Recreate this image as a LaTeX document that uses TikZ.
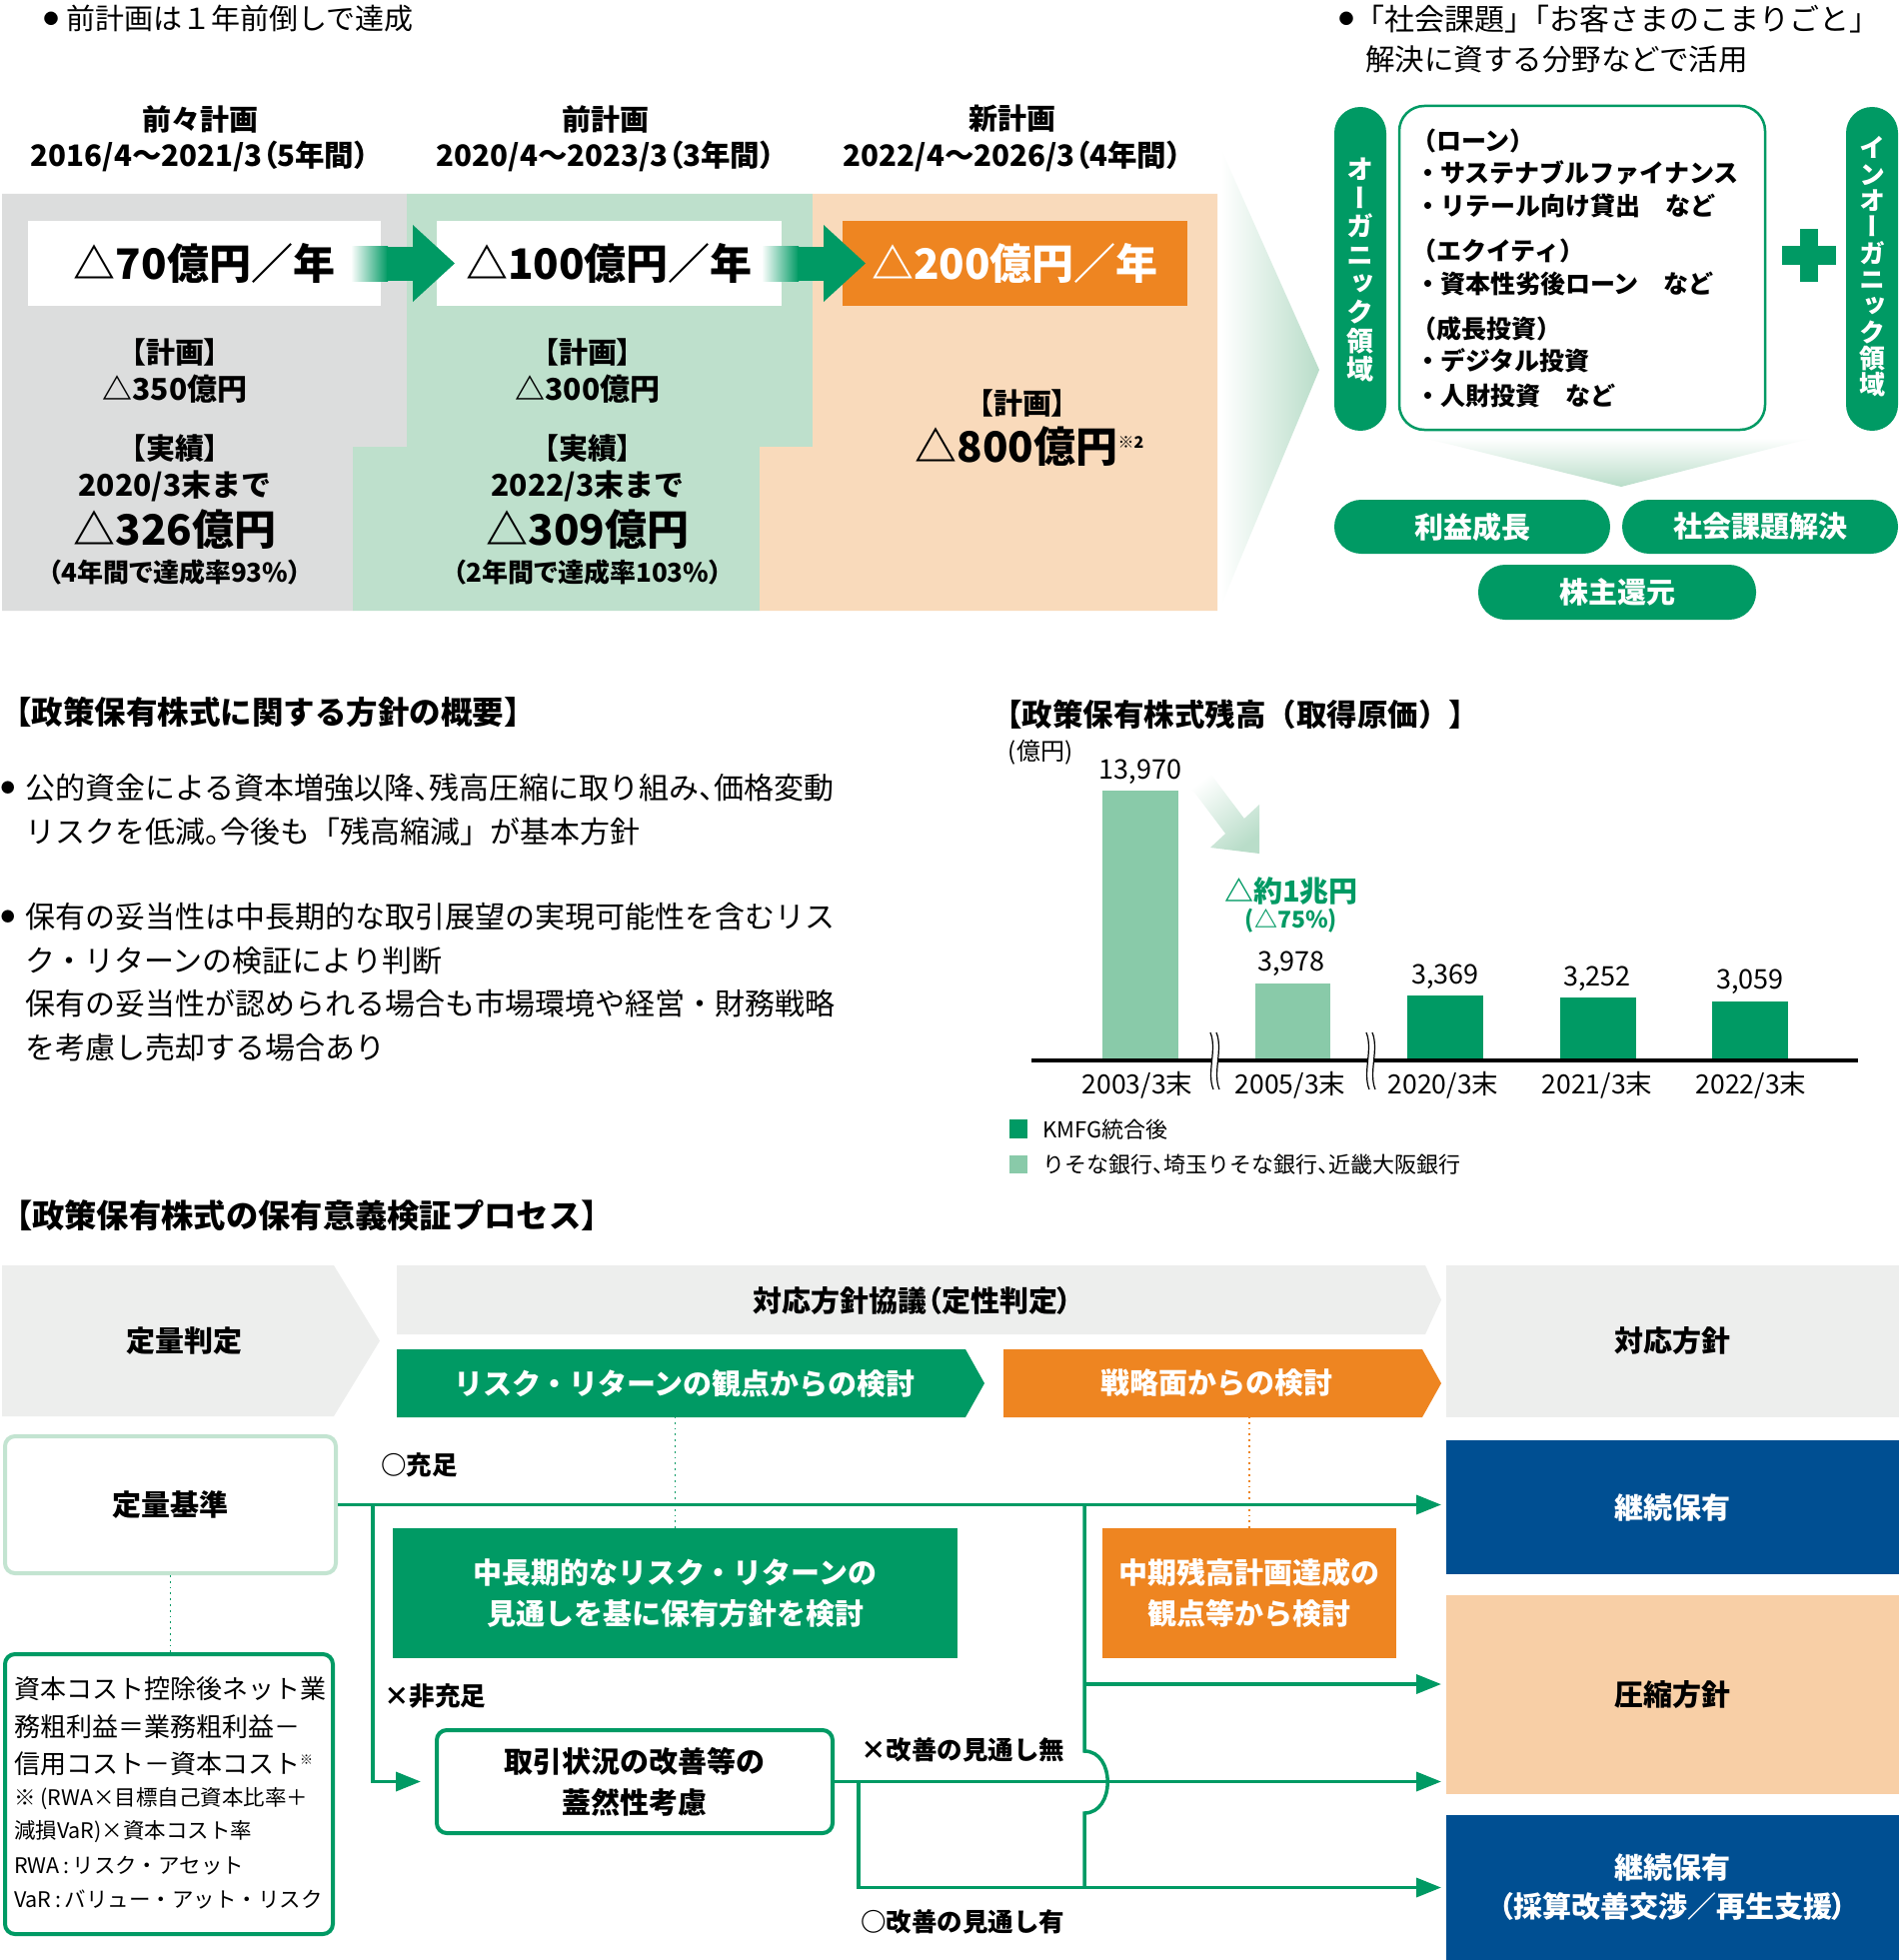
\documentclass[tikz,border=0pt]{standalone}
\usepackage{fontspec}
\setmainfont{Noto Sans CJK JP}
\newfontfamily\vfont[RawFeature=+vert]{Noto Sans CJK JP}
\newfontfamily\pfont[RawFeature=+palt]{Noto Sans CJK JP}
\usetikzlibrary{arrows.meta}
\definecolor{grayP}{HTML}{DCDDDD}
\definecolor{greenP}{HTML}{BEE0CC}
\definecolor{peachP}{HTML}{F9DABB}
\definecolor{orangeC}{HTML}{EE8521}
\definecolor{greenC}{HTML}{009A64}
\definecolor{barL}{HTML}{89CAA9}
\definecolor{blueC}{HTML}{004F92}
\definecolor{peachC}{HTML}{F8CFA6}
\definecolor{hdrG}{HTML}{EDEEED}
\definecolor{kijunB}{HTML}{C3E4D1}
\definecolor{fadeG}{HTML}{B9DDC9}
\newcommand{\fs}[2]{\fontsize{#1pt}{#2pt}\selectfont}
\newcommand{\hc}[1]{\makebox[0.5em][l]{#1}}
\begin{document}
\begin{tikzpicture}[x=1pt,y=-1pt,
  tx/.style={inner sep=0pt, outer sep=0pt, align=center},
  txw/.style={tx, anchor=west, align=left},
  flowline/.style={draw=greenC, line width=3.5pt},
  arr/.style={flowline, -{Triangle[length=25pt,width=19pt]}},
  dotg/.style={line width=1.8pt, dash pattern=on 1.8pt off 4pt},
  pill/.style={fill=greenC, rounded corners=26pt, inner sep=0pt, text=white, font=\bfseries\fs{29}{29}},
  fbox/.style={inner sep=0pt, outer sep=0pt, align=center},
]
\useasboundingbox (0,0) rectangle (1900,1961);
\fill[white] (0,0) rectangle (1900,1961);

% ---------------- top left ----------------
\node[tx, font=\fs{15}{15}] (bulA) at (51,19) {●};
\node[txw, font=\fs{29}{29}] (noteA) at (66,19) {前計画は１年前倒しで達成};

\node[tx, font=\bfseries\fs{29}{29}] (h1a) at (200,119) {前々計画};
\node[tx, font=\pfont\bfseries\fs{29.5}{29.5}] (h1b) at (200,156) {2016/4～2021/3（5年間）};
\node[tx, font=\bfseries\fs{29}{29}] (h2a) at (606,119) {前計画};
\node[tx, font=\pfont\bfseries\fs{29.5}{29.5}] (h2b) at (606,156) {2020/4～2023/3（3年間）};
\node[tx, font=\bfseries\fs{29}{29}] (h3a) at (1013,119) {新計画};
\node[tx, font=\pfont\bfseries\fs{29.5}{29.5}] (h3b) at (1013,156) {2022/4～2026/3（4年間）};

\fill[grayP] (2,194) -- (407,194) -- (407,447) -- (353,447) -- (353,611) -- (2,611) -- cycle;
\fill[greenP] (407,194) -- (813,194) -- (813,447) -- (760,447) -- (760,611) -- (353,611) -- (353,447) -- (407,447) -- cycle;
\fill[peachP] (813,194) -- (1218,194) -- (1218,611) -- (760,611) -- (760,447) -- (813,447) -- cycle;

\node[fill=white, minimum width=353pt, minimum height=85pt, inner sep=0pt, font=\bfseries\fs{42}{42}] (b1) at (204.5,263.5) {△70億円／年};
\node[fill=white, minimum width=345pt, minimum height=85pt, inner sep=0pt, font=\bfseries\fs{42}{42}] (b2) at (609.5,263.5) {△100億円／年};
\node[fill=orangeC, text=white, minimum width=345pt, minimum height=85pt, inner sep=0pt, font=\bfseries\fs{42}{42}] (b3) at (1015.5,263.5) {△200億円／年};

\shade[left color=white, right color=greenC] (351,247) rectangle (388,281);
\fill[greenC] (387,247) rectangle (414,281);
\fill[greenC] (413,225) -- (455,263.5) -- (413,302) -- cycle;
\shade[left color=white, right color=greenC] (762,247) rectangle (799,281);
\fill[greenC] (798,247) rectangle (825,281);
\fill[greenC] (824,225) -- (866,263.5) -- (824,302) -- cycle;

\node[tx, font=\pfont\bfseries\fs{29}{29}] (g1) at (175,352) {【計画】};
\node[tx, font=\bfseries\fs{30}{30}] (g2) at (175,389) {△350億円};
\node[tx, font=\pfont\bfseries\fs{29}{29}] (g3) at (175,449) {【実績】};
\node[tx, font=\bfseries\fs{30}{30}] (g4) at (175,486) {2020/3末まで};
\node[tx, font=\bfseries\fs{42}{42}] (g5) at (175,530) {△326億円};
\node[tx, font=\pfont\bfseries\fs{26}{26}] (g6) at (175,573) {（4年間で達成率93\%）};

\node[tx, font=\pfont\bfseries\fs{29}{29}] (m1) at (588,352) {【計画】};
\node[tx, font=\bfseries\fs{30}{30}] (m2) at (588,389) {△300億円};
\node[tx, font=\pfont\bfseries\fs{29}{29}] (m3) at (588,449) {【実績】};
\node[tx, font=\bfseries\fs{30}{30}] (m4) at (588,486) {2022/3末まで};
\node[tx, font=\bfseries\fs{42}{42}] (m5) at (588,530) {△309億円};
\node[tx, font=\pfont\bfseries\fs{26}{26}] (m6) at (588,573) {（2年間で達成率103\%）};

\node[tx, font=\pfont\bfseries\fs{29}{29}] (o1) at (1023,403) {【計画】};
\node[tx, font=\bfseries\fs{42}{42}] (o2) at (1030,447) {△800億円\raisebox{14pt}{\fs{16}{16}※2}};

\shade[left color=white, right color=fadeG] (1222,150) -- (1320,370) -- (1222,605) -- cycle;

% ---------------- top right ----------------
\node[tx, font=\fs{15}{15}] (bulB) at (1347,19) {●};
\node[txw, font=\fs{30}{30}] (noteB1) at (1355,19) {「社会課題」\hspace{-0.5em}「お客さまのこまりごと」};
\node[txw, font=\fs{29.5}{29.5}] (noteB2) at (1366,59) {解決に資する分野などで活用};

\node[pill, minimum width=52pt, minimum height=324pt] (orgP) at (1361,269) {};
\node[tx, text=white, font=\vfont\bfseries\fs{27}{28.6}] (orgT) at (1361,270) {オ\\ー\\ガ\\ニ\\ッ\\ク\\領\\域};
\node[pill, minimum width=52pt, minimum height=324pt] (inoP) at (1873,269) {};
\node[tx, text=white, font=\vfont\bfseries\fs{26}{26.3}] (inoT) at (1873,267) {イ\\ン\\オ\\ー\\ガ\\ニ\\ッ\\ク\\領\\域};

\node[draw=greenC, line width=2.5pt, rounded corners=25pt, minimum width=366pt, minimum height=324pt, inner sep=0pt] (listBox) at (1583,268) {};
\begin{scope}[every node/.style={txw, font=\bfseries\fs{25}{25}}]
\node (l1) at (1412,141) {（ローン）};
\node (l2) at (1416,173) {・サステナブルファイナンス};
\node (l3) at (1416,206) {・リテール向け貸出　など};
\node (l4) at (1412,251) {（エクイティ）};
\node (l5) at (1416,284) {・資本性劣後ローン　など};
\node (l6) at (1412,329) {（成長投資）};
\node (l7) at (1416,361) {・デジタル投資};
\node (l8) at (1416,396) {・人財投資　など};
\end{scope}

\fill[greenC] (1783,246) rectangle (1837,265);
\fill[greenC] (1801,229) rectangle (1819,282);

\shade[top color=white, bottom color=fadeG] (1424,438) -- (1814,438) -- (1622,487) -- cycle;

\node[pill, rounded corners=27pt, minimum width=276pt, minimum height=54pt] (p1) at (1473,527) {利益成長};
\node[pill, rounded corners=27pt, minimum width=276pt, minimum height=54pt] (p2) at (1761,527) {社会課題解決};
\node[pill, rounded corners=27pt, minimum width=278pt, minimum height=55pt] (p3) at (1618,592.5) {株主還元};

% ---------------- middle left ----------------
\node[txw, font=\bfseries\fs{31.5}{31.5}] (headL) at (0,713) {【政策保有株式に関する方針の概要】};
\node[tx, font=\fs{14}{14}] (bu1) at (8,788) {●};
\node[tx, font=\fs{14}{14}] (bu2) at (8,917) {●};
\begin{scope}[every node/.style={txw, font=\fs{30}{30}}]
\node (pl1) at (25,788) {公的資金による資本増強以降\hc{、}残高圧縮に取り組み\hc{、}価格変動};
\node (pl2) at (25,832) {リスクを低減\hc{。}今後も「残高縮減」が基本方針};
\node (pl3) at (25,917) {保有の妥当性は中長期的な取引展望の実現可能性を含むリス};
\node (pl4) at (25,961) {ク・リターンの検証により判断};
\node (pl5) at (25,1004) {保有の妥当性が認められる場合も市場環境や経営・財務戦略};
\node (pl6) at (25,1048) {を考慮し売却する場合あり};
\end{scope}

% ---------------- chart ----------------
\node[txw, font=\bfseries\fs{30.5}{30.5}] (headC) at (992,715) {【政策保有株式残高（取得原価）】};
\node[tx, font=\fs{24}{24}] (unit) at (1041,753) {(億円)};

\fill[barL] (1103,791) rectangle (1179,1061);
\fill[barL] (1256,984) rectangle (1331,1061);
\fill[greenC] (1408,996) rectangle (1484,1061);
\fill[greenC] (1561,998) rectangle (1637,1061);
\fill[greenC] (1713,1002) rectangle (1789,1061);
\draw[line width=3.5pt] (1032,1061) -- (1859,1061);

\foreach \bx in {1216,1372} {
  \begin{scope}[shift={(\bx,0)}]
    \fill[white] (-5,1033) .. controls (2,1050) and (-9,1073) .. (-2,1090) -- (4,1090) .. controls (-3,1073) and (8,1050) .. (1,1033) -- cycle;
    \draw[line width=1.2pt] (-5,1033) .. controls (2,1050) and (-9,1073) .. (-2,1090);
    \draw[line width=1.2pt] (1,1033) .. controls (8,1050) and (-3,1073) .. (4,1090);
  \end{scope}
}

\begin{scope}[every node/.style={tx, font=\fs{27}{27}}]
\node (v1) at (1141,772) {13,970};
\node (v2) at (1292,964) {3,978};
\node (v3) at (1446,977) {3,369};
\node (v4) at (1598,979) {3,252};
\node (v5) at (1751,982) {3,059};
\end{scope}
\begin{scope}[every node/.style={tx, font=\fs{26.5}{26.5}}]
\node (c1) at (1138,1086) {2003/3末};
\node (c2) at (1291,1086) {2005/3末};
\node (c3) at (1444,1086) {2020/3末};
\node (c4) at (1598,1086) {2021/3末};
\node (c5) at (1752,1086) {2022/3末};
\end{scope}

\shade[top color=white, bottom color=fadeG, shading angle=38] (1189.6,785.5) -- (1208.4,770.5) -- (1244.9,819) -- (1260,805) -- (1260,854) -- (1211,848) -- (1226.1,834) -- cycle;
\node[tx, text=greenC, font=\bfseries\fs{29}{29}] (drop) at (1292,892) {△約1兆円};
\node[tx, text=greenC, font=\bfseries\fs{23}{23}] (dropP) at (1292,921) {(△75\%)};

\fill[greenC] (1010,1120) rectangle (1028,1139);
\fill[barL] (1010,1156) rectangle (1028,1174);
\node[txw, font=\fs{22}{22}] (lg1) at (1043,1130) {KMFG統合後};
\node[txw, font=\fs{22}{22}] (lg2) at (1043,1165) {りそな銀行\hc{、}埼玉りそな銀行\hc{、}近畿大阪銀行};

% ---------------- process ----------------
\node[txw, font=\bfseries\fs{32.3}{32.3}] (headP) at (0,1216) {【政策保有株式の保有意義検証プロセス】};

\fill[hdrG] (2,1266) -- (334,1266) -- (380,1341.5) -- (334,1417) -- (2,1417) -- cycle;
\node[tx, font=\bfseries\fs{29}{29}] (hantei) at (184,1342) {定量判定};
\fill[hdrG] (397,1266) -- (1426,1266) -- (1442,1300.5) -- (1426,1335) -- (397,1335) -- cycle;
\node[tx, font=\pfont\bfseries\fs{29}{29}] (kyogi) at (913,1301) {対応方針協議（定性判定）};
\fill[greenC] (397,1350) -- (966,1350) -- (985,1384) -- (966,1418) -- (397,1418) -- cycle;
\node[tx, text=white, font=\bfseries\fs{29}{29}] (riskH) at (685,1384) {リスク・リターンの観点からの検討};
\fill[orangeC] (1004,1350) -- (1423,1350) -- (1442,1384) -- (1423,1418) -- (1004,1418) -- cycle;
\node[tx, text=white, font=\bfseries\fs{29}{29}] (senH) at (1217,1384) {戦略面からの検討};
\node[fill=hdrG, minimum width=453pt, minimum height=152pt, inner sep=0pt, font=\bfseries\fs{29}{29}] (taiou) at (1673.5,1342) {対応方針};

\node[draw=kijunB, line width=4pt, rounded corners=10pt, fill=white, minimum width=331pt, minimum height=137pt, inner sep=0pt, font=\bfseries\fs{29}{29}] (kijun) at (170.5,1505.5) {定量基準};
\node[draw=greenC, line width=4pt, rounded corners=10pt, fill=white, minimum width=328pt, minimum height=280pt, inner sep=0pt] (formula) at (169,1795) {};
\node[txw, font=\fs{26}{26}] (f1) at (14,1690) {資本コスト控除後ネット業};
\node[txw, font=\fs{26}{26}] (f2) at (14,1728) {務粗利益＝業務粗利益－};
\node[txw, font=\fs{26}{26}] (f3) at (14,1765) {信用コスト－資本コスト\raisebox{9pt}{\fs{13}{13}※}};
\node[txw, font=\fs{21.5}{21.5}] (f4) at (14,1800) {※ (RWA×目標自己資本比率＋};
\node[txw, font=\fs{21.5}{21.5}] (f5) at (14,1833) {減損VaR)×資本コスト率};
\node[txw, font=\fs{21.5}{21.5}] (f6) at (14,1867) {RWA\,:\,リスク・アセット};
\node[txw, font=\fs{21.5}{21.5}] (f7) at (14,1900) {VaR\,:\,バリュー・アット・リスク};

\node[fill=greenC, text=white, minimum width=565pt, minimum height=130pt, fbox, font=\bfseries\fs{29}{41}] (chuchoki) at (675.5,1594) {中長期的なリスク・リターンの\\見通しを基に保有方針を検討};
\node[fill=orangeC, text=white, minimum width=294pt, minimum height=130pt, fbox, font=\bfseries\fs{29}{41}] (chuki) at (1250,1594) {中期残高計画達成の\\観点等から検討};
\node[draw=greenC, line width=4pt, rounded corners=10pt, fill=white, minimum width=396pt, minimum height=103pt, fbox, font=\bfseries\fs{29}{41}] (torihiki) at (635,1782.5) {取引状況の改善等の\\蓋然性考慮};

\node[fill=blueC, text=white, minimum width=453pt, minimum height=134pt, fbox, font=\bfseries\fs{29}{29}] (keizoku1) at (1673.5,1508) {継続保有};
\node[fill=peachC, minimum width=453pt, minimum height=199pt, fbox, font=\bfseries\fs{29}{29}] (asshuku) at (1673.5,1695.5) {圧縮方針};
\node[fill=blueC, text=white, minimum width=453pt, minimum height=145pt, fbox, font=\pfont\bfseries\fs{29}{39}] (keizoku2) at (1673.5,1888.5) {継続保有\\（採算改善交渉／再生支援）};

\draw[greenC, dotg] (chuchoki.north) -- ++(0,-111);
\draw[orangeC, dotg] (chuki.north) -- ++(0,-111);
\draw[greenC, dotg] (kijun.south) -- (kijun.south |- formula.north);

\coordinate (jx) at (373,0);
\coordinate (kx) at (859,0);
\coordinate (vx) at (1085,0);
\coordinate (vb) at (1085,1685);

\draw[arr, shorten >=5pt] (kijun.east) -- (kijun.east -| keizoku1.west);
\draw[arr, shorten >=16pt] (kijun.east -| jx) -- (jx |- torihiki.west) -- (torihiki.west);
\draw[arr, shorten >=5pt] (torihiki.east) -- (torihiki.east -| asshuku.west);
\draw[arr, shorten >=5pt] (torihiki.east -| kx) -- (kx |- keizoku2.west) -- (keizoku2.west);
\draw[flowline] (kijun.east -| vx) -- (1085,1752) .. controls (1116,1752) and (1116,1814) .. (1085,1814) -- (vx |- keizoku2.west);
\draw[arr, shorten >=5pt] (vb) -- (vb -| asshuku.west);

\node[txw, font=\bfseries\fs{25.5}{25.5}] (lb1) at (381,1466) {○充足};
\node[txw, font=\bfseries\fs{25.5}{25.5}] (lb2) at (384,1697) {×非充足};
\node[txw, font=\bfseries\fs{25.5}{25.5}] (lb3) at (861,1751) {×改善の見通し無};
\node[txw, font=\bfseries\fs{25.5}{25.5}] (lb4) at (861,1923) {○改善の見通し有};
\end{tikzpicture}
\end{document}
